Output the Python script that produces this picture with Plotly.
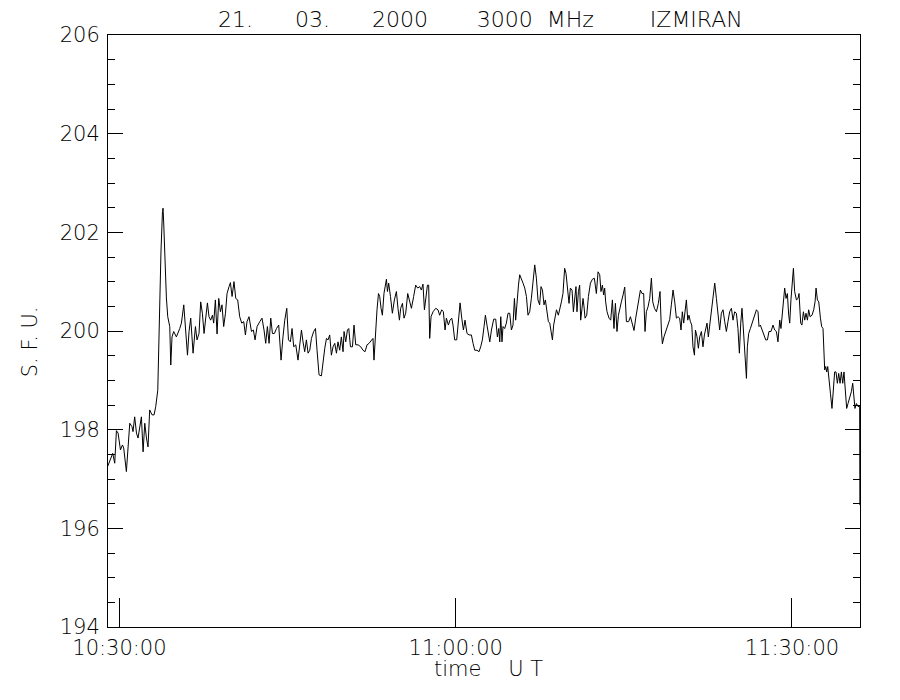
import pandas as pd
import plotly.graph_objects as go

# Time in minutes after 10:30:00 UT, and solar flux (s.f.u.)
minutes = [
    -1.04, -0.71, -0.60, -0.42, -0.27, -0.12, 0.09, 0.27, 0.38, 0.62, 0.77, 0.92, 1.12, 1.21, 1.36, 1.52,
    1.66, 1.81, 1.96, 2.11, 2.26, 2.41, 2.55, 2.70, 2.91, 3.09, 3.24, 3.42, 3.51, 3.60, 3.71, 3.84,
    3.89, 3.95, 4.07, 4.19, 4.31, 4.49, 4.58, 4.69, 4.84, 5.08, 5.38, 5.53, 5.74, 5.91, 6.07, 6.21,
    6.36, 6.57, 6.78, 6.92, 7.10, 7.25, 7.40, 7.55, 7.70, 7.85, 7.99, 8.14, 8.30, 8.41, 8.56, 8.71,
    8.86, 9.01, 9.15, 9.30, 9.46, 9.60, 9.78, 9.90, 10.05, 10.22, 10.38, 10.55, 10.73, 10.91, 11.09, 11.24,
    11.38, 11.56, 11.78, 11.95, 12.10, 12.28, 12.52, 12.72, 12.90, 13.05, 13.20, 13.35, 13.50, 13.65, 13.83, 14.01,
    14.21, 14.42, 14.59, 14.75, 14.93, 15.08, 15.25, 15.40, 15.55, 15.73, 15.93, 16.08, 16.24, 16.38, 16.53, 16.68,
    16.83, 16.98, 17.13, 17.33, 17.49, 17.63, 17.72, 17.81, 18.02, 18.16, 18.32, 18.47, 18.61, 18.76, 18.91, 19.06,
    19.21, 19.36, 19.50, 19.65, 19.80, 19.95, 20.04, 20.19, 20.34, 20.46, 20.61, 20.79, 20.93, 21.08, 21.29, 21.53,
    21.73, 21.91, 22.09, 22.27, 22.48, 22.62, 22.71, 22.84, 22.98, 23.11, 23.22, 23.34, 23.46, 23.60, 23.73, 23.82,
    23.91, 24.02, 24.18, 24.35, 24.53, 24.71, 24.85, 24.98, 25.09, 25.25, 25.39, 25.54, 25.72, 25.90, 26.05, 26.25,
    26.43, 26.61, 26.79, 26.94, 27.08, 27.21, 27.33, 27.48, 27.59, 27.68, 27.80, 27.98, 28.22, 28.42, 28.57, 28.75,
    28.90, 29.05, 29.17, 29.35, 29.49, 29.65, 29.76, 29.91, 30.09, 30.24, 30.39, 30.54, 30.69, 30.83, 31.01, 31.19,
    31.40, 31.55, 31.70, 31.90, 32.08, 32.23, 32.38, 32.53, 32.65, 32.79, 32.97, 33.04, 33.19, 33.39, 33.57, 33.72,
    33.84, 33.93, 34.02, 34.13, 34.22, 34.37, 34.52, 34.67, 34.82, 34.97, 35.11, 35.24, 35.35, 35.47, 35.60, 35.71,
    35.86, 36.01, 36.16, 36.31, 36.45, 36.60, 36.75, 36.90, 37.05, 37.20, 37.34, 37.49, 37.61, 37.74, 37.88, 38.00,
    38.15, 38.27, 38.39, 38.50, 38.63, 38.74, 38.86, 38.99, 39.16, 39.28, 39.43, 39.57, 39.72, 39.84, 39.97, 40.11,
    40.23, 40.38, 40.50, 40.62, 40.73, 40.82, 40.95, 41.06, 41.15, 41.27, 41.36, 41.45, 41.54, 41.69, 41.84, 42.02,
    42.20, 42.37, 42.55, 42.70, 42.85, 42.96, 43.09, 43.20, 43.29, 43.38, 43.50, 43.68, 43.83, 43.98, 44.12, 44.25,
    44.39, 44.52, 44.63, 44.78, 44.93, 45.08, 45.23, 45.43, 45.59, 45.76, 45.91, 46.06, 46.21, 46.35, 46.48, 46.62,
    46.77, 46.89, 47.01, 47.16, 47.31, 47.46, 47.58, 47.73, 47.91, 48.08, 48.23, 48.35, 48.44, 48.58, 48.74, 48.91,
    49.09, 49.24, 49.39, 49.54, 49.69, 49.83, 49.98, 50.10, 50.22, 50.34, 50.46, 50.58, 50.70, 50.81, 50.94, 51.06,
    51.17, 51.30, 51.39, 51.53, 51.65, 51.77, 51.92, 52.06, 52.19, 52.30, 52.42, 52.54, 52.66, 52.81, 52.96, 53.11,
    53.26, 53.40, 53.55, 53.70, 53.85, 54.00, 54.15, 54.29, 54.44, 54.60, 54.74, 54.89, 55.04, 55.18, 55.31, 55.43,
    55.54, 55.63, 55.76, 55.85, 55.94, 56.02, 56.14, 56.29, 56.47, 56.65, 56.83, 56.97, 57.06, 57.18, 57.30, 57.48,
    57.66, 57.81, 57.95, 58.13, 58.31, 58.46, 58.61, 58.75, 58.91, 59.02, 59.15, 59.26, 59.35, 59.47, 59.59, 59.71,
    59.80, 59.91, 60.04, 60.13, 60.24, 60.40, 60.54, 60.63, 60.78, 60.89, 61.02, 61.14, 61.25, 61.38, 61.49, 61.61,
    61.79, 61.94, 62.06, 62.15, 62.27, 62.39, 62.54, 62.65, 62.77, 62.86, 62.92, 63.01, 63.10, 63.19, 63.30, 63.43,
    63.57, 63.70, 63.81, 63.93, 64.05, 64.17, 64.29, 64.41, 64.53, 64.64, 64.77, 64.88, 65.00, 65.15, 65.30, 65.42,
    65.56, 65.62, 65.75, 65.89, 66.04, 66.06,
]

flux = [
    197.26, 197.49, 197.52, 197.32, 197.98, 197.93, 197.59, 197.69, 197.63, 197.15, 197.55, 198.13, 198.06, 197.96, 198.26, 197.93,
    197.83, 198.09, 198.26, 197.55, 198.13, 197.83, 197.65, 198.40, 198.30, 198.30, 198.47, 198.80, 199.88, 201.10, 201.64, 202.42,
    202.49, 202.19, 201.38, 200.67, 200.29, 200.09, 199.31, 199.88, 199.99, 199.88, 200.05, 200.16, 200.53, 199.95, 199.51, 199.99,
    200.26, 199.55, 200.09, 199.82, 199.95, 200.59, 200.36, 199.95, 200.26, 200.57, 200.29, 200.22, 200.32, 200.16, 200.63, 199.94,
    200.66, 200.39, 200.53, 200.09, 200.36, 200.76, 200.90, 200.98, 200.70, 201.00, 200.66, 200.63, 200.29, 200.16, 200.19, 199.92,
    200.19, 200.29, 199.99, 200.02, 199.82, 200.09, 200.19, 200.26, 200.02, 199.75, 200.09, 199.75, 200.26, 199.95, 199.95, 200.05,
    200.12, 199.41, 199.88, 200.22, 200.46, 199.82, 199.78, 200.05, 199.68, 199.72, 199.41, 199.68, 200.02, 199.78, 199.58, 199.82,
    199.55, 199.61, 199.85, 199.99, 200.05, 199.61, 199.35, 199.11, 199.09, 199.38, 199.65, 199.85, 199.82, 199.92, 199.51, 199.68,
    199.75, 199.55, 199.78, 199.61, 199.88, 199.58, 199.99, 199.78, 200.02, 200.05, 199.68, 199.68, 200.12, 199.72, 199.72, 199.68,
    199.61, 199.58, 199.72, 199.75, 199.82, 199.85, 199.41, 200.05, 200.43, 200.76, 200.70, 200.46, 200.32, 200.76, 200.90, 201.05,
    200.80, 200.97, 200.70, 200.36, 200.63, 200.80, 200.46, 200.22, 200.46, 200.56, 200.26, 200.36, 200.76, 200.56, 200.46, 200.70,
    200.93, 200.87, 200.90, 200.83, 200.95, 200.43, 200.66, 200.93, 200.93, 199.85, 200.29, 200.39, 200.46, 200.43, 200.32, 200.43,
    200.39, 200.02, 200.26, 200.12, 200.22, 200.26, 200.12, 199.82, 199.82, 200.26, 200.57, 200.26, 200.02, 200.22, 199.95, 199.92,
    199.92, 199.75, 199.61, 199.61, 199.58, 199.68, 199.82, 200.09, 200.32, 200.12, 199.85, 199.78, 200.02, 200.24, 200.24, 199.88,
    200.05, 199.78, 200.29, 199.78, 200.09, 200.05, 200.16, 200.36, 200.36, 200.02, 200.12, 200.66, 200.22, 200.66, 200.93, 201.14,
    201.03, 200.97, 200.87, 200.70, 200.32, 200.39, 200.66, 201.07, 201.34, 201.07, 200.63, 200.53, 200.90, 200.83, 200.53, 200.63,
    200.43, 200.19, 200.16, 200.02, 199.82, 200.12, 200.32, 200.43, 200.32, 200.43, 200.59, 200.76, 201.27, 201.17, 200.93, 200.56,
    200.87, 200.83, 200.39, 200.63, 200.90, 200.39, 200.80, 200.93, 200.22, 200.46, 200.66, 200.49, 200.26, 200.32, 200.70, 200.97,
    201.05, 201.07, 200.76, 201.20, 201.14, 200.80, 200.93, 200.73, 200.87, 200.59, 200.39, 200.26, 200.22, 200.63, 200.05, 200.56,
    199.99, 200.32, 200.46, 200.59, 200.73, 200.89, 200.19, 200.19, 200.29, 200.16, 200.01, 200.26, 200.46, 200.70, 200.83, 200.76,
    200.76, 199.99, 200.39, 200.49, 200.66, 201.07, 200.59, 200.46, 200.39, 200.56, 200.80, 200.02, 199.74, 199.88, 199.99, 200.09,
    200.23, 200.53, 200.83, 200.59, 200.26, 200.29, 200.26, 200.02, 200.39, 200.16, 200.39, 200.63, 200.22, 200.32, 200.19, 200.12,
    199.68, 199.51, 200.02, 199.88, 199.65, 199.88, 199.99, 199.68, 199.92, 200.05, 200.16, 199.88, 200.09, 200.36, 200.70, 200.97,
    200.66, 200.26, 200.02, 200.36, 200.43, 200.19, 199.99, 200.19, 200.39, 200.46, 200.22, 200.39, 200.36, 200.05, 199.55, 200.16,
    200.46, 200.16, 199.68, 199.28, 199.04, 199.68, 199.95, 200.05, 200.19, 200.29, 200.43, 200.39, 200.09, 200.12, 200.05, 199.92,
    199.82, 199.82, 199.99, 199.99, 200.12, 200.02, 199.99, 199.78, 200.22, 200.05, 200.32, 200.63, 200.87, 200.66, 200.76, 200.32,
    200.16, 200.63, 201.03, 201.27, 200.80, 200.63, 200.66, 200.76, 200.16, 200.12, 200.39, 200.22, 200.36, 200.22, 200.43, 200.29,
    200.32, 200.43, 200.59, 200.87, 200.63, 200.59, 200.26, 200.09, 200.05, 199.68, 199.21, 199.28, 199.17, 199.28, 198.94, 198.74,
    198.43, 198.97, 199.17, 199.17, 198.94, 199.14, 198.94, 199.17, 198.94, 199.17, 198.77, 198.43, 198.53, 198.64, 198.77, 198.94,
    198.64, 198.43, 198.53, 198.47, 198.47, 196.47,
]

y_tick_vals = [194, 196, 198, 200, 202, 204, 206]
x_tick_labels = ["10:30:00", "11:00:00", "11:30:00"]
SP = "\u00a0"
title_text = "21." + SP * 6 + "03." + SP * 6 + "2000" + SP * 7 + "3000" + SP * 2 + "MHz" + SP * 8 + "IZMIRAN"
x_title = "time" + SP * 4 + "U" + SP + "T"
y_title = "S." + SP + "F." + SP + "U."

base = pd.Timestamp("2000-03-21 10:30:00")
times = base + pd.to_timedelta(pd.Series(minutes), unit="min")
x_ticks = [pd.Timestamp("2000-03-21 " + s) for s in x_tick_labels]
x_start = base + pd.to_timedelta(-1.02, unit="min")
x_end = base + pd.to_timedelta(66.07, unit="min")

FONT = "DejaVu Sans"
TICKFONT = dict(family=FONT, size=21, color="black", weight=200)

fig = go.Figure()
fig.add_trace(go.Scatter(x=times, y=flux, mode="lines",
                         line=dict(color="black", width=1), hoverinfo="skip"))

# the page body has an 8 px margin, so the margins are offset by 8 px
fig.update_layout(
    width=900, height=700,
    margin=dict(l=100, r=48, t=27, b=81),
    paper_bgcolor="white", plot_bgcolor="white",
    showlegend=False,
    font=dict(family=FONT, size=21, color="black"),
)

fig.update_xaxes(
    range=[x_start, x_end],
    tickvals=x_ticks, ticktext=x_tick_labels,
    ticks="inside", ticklen=29, tickwidth=1, tickcolor="black",
    showline=True, linecolor="black", linewidth=1, mirror=True,
    showgrid=False, zeroline=False,
    tickfont=TICKFONT, ticklabelstandoff=2,
)
fig.update_yaxes(
    range=[194, 206],
    tickvals=y_tick_vals,
    ticks="inside", ticklen=15, tickwidth=1, tickcolor="black",
    minor=dict(dtick=0.5, ticks="inside", ticklen=7, tickwidth=1, tickcolor="black", showgrid=False),
    showline=True, linecolor="black", linewidth=1, mirror="ticks",
    showgrid=False, zeroline=False,
    tickfont=TICKFONT, ticklabelstandoff=3,
)

fig.add_annotation(text=title_text, xref="paper", yref="paper", x=0.496, y=1,
                   yshift=16, xanchor="center", yanchor="middle", showarrow=False,
                   font=dict(family=FONT, size=22, color="black", weight=200))
fig.add_annotation(text=x_title, xref="paper", yref="paper", x=0.5066, y=0,
                   yshift=-42, xanchor="center", yanchor="middle", showarrow=False,
                   font=TICKFONT)
fig.add_annotation(text=y_title, xref="paper", yref="paper", x=0, y=0.481,
                   xshift=-78, xanchor="center", yanchor="middle", showarrow=False,
                   textangle=-90, font=TICKFONT)

fig.write_html("out.html")
